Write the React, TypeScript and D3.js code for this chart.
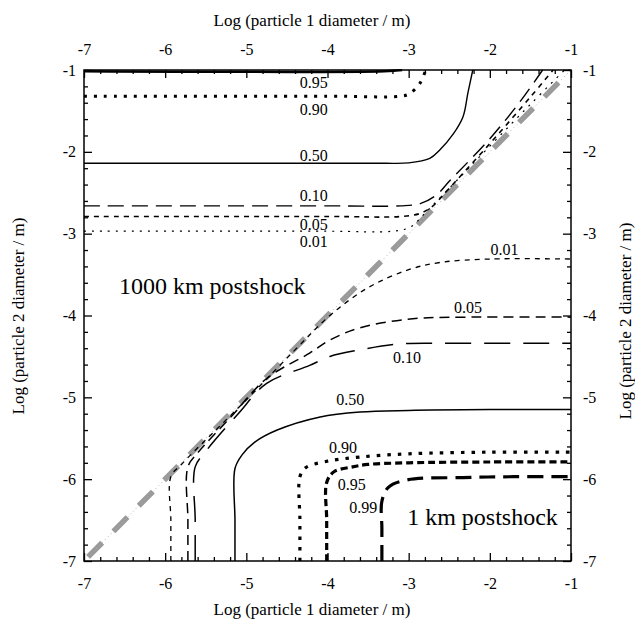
import React, { useEffect, useRef } from "react";
import * as d3 from "d3";

// axis ticks (log10 of diameter in m)
const majorTicks = [-7, -6, -5, -4, -3, -2, -1];
const minorTicks = [-6.8, -6.6, -6.4, -6.2, -5.8, -5.6, -5.4, -5.2, -4.8, -4.6, -4.4, -4.2,
  -3.8, -3.6, -3.4, -3.2, -2.8, -2.6, -2.4, -2.2, -1.8, -1.6, -1.4, -1.2];

// 1000 km postshock contours (above the diagonal)
const up95 = [[-7, -1.015], [-3.3, -1.015], [-3.08, -1.0]];
const up90 = [[-7, -1.32], [-4, -1.32], [-3.1, -1.32], [-2.99, -1.29], [-2.86, -1.16], [-2.79, -1.0]];
const up50 = [[-7, -2.14], [-4, -2.14], [-3.3, -2.14], [-3.0, -2.135], [-2.74, -2.08], [-2.62, -1.98], [-2.45, -1.78], [-2.33, -1.57], [-2.27, -1.28], [-2.21, -1.0]];
const up10 = [[-7, -2.66], [-4, -2.66], [-3.1, -2.66], [-2.85, -2.63], [-2.65, -2.52], [-2.5, -2.36], [-2.0, -1.84], [-1.6, -1.35], [-1.35, -1.0]];
const up05 = [[-7, -2.79], [-4, -2.79], [-3.1, -2.79], [-2.85, -2.75], [-2.7, -2.66], [-2.55, -2.5], [-2.0, -1.9], [-1.5, -1.33], [-1.22, -1.0]];
const up01 = [[-7, -2.97], [-4, -2.97], [-3.2, -2.97], [-2.98, -2.92], [-2.8, -2.75], [-2.0, -1.93], [-1.5, -1.42], [-1.08, -1.0]];

// 1 km postshock contours (below the diagonal)
const low01 = [[-5.93, -7], [-5.93, -6.5], [-5.93, -5.97], [-5.8, -5.82], [-5.0, -5.03], [-4.4, -4.42], [-3.97, -4.0], [-3.5, -3.66], [-3.0, -3.44], [-2.6, -3.35], [-2.0, -3.31], [-1, -3.31]];
const low05 = [[-5.72, -7], [-5.72, -6.5], [-5.72, -5.85], [-5.6, -5.68], [-5.2, -5.25], [-4.75, -4.77], [-4.22, -4.46], [-3.97, -4.3], [-3.6, -4.15], [-2.95, -4.04], [-2.3, -4.02], [-1, -4.02]];
const low10 = [[-5.63, -7], [-5.63, -6.5], [-5.63, -5.85], [-5.5, -5.66], [-5.1, -5.2], [-4.75, -4.83], [-4.22, -4.61], [-3.97, -4.5], [-3.6, -4.42], [-3.15, -4.35], [-2.5, -4.34], [-1, -4.34]];
const low50 = [[-5.14, -7], [-5.14, -6.5], [-5.14, -5.87], [-5.05, -5.7], [-4.9, -5.55], [-4.62, -5.4], [-4.09, -5.24], [-3.6, -5.18], [-3.0, -5.16], [-2, -5.15], [-1, -5.15]];
const low90 = [[-4.34, -7], [-4.34, -6.5], [-4.34, -5.97], [-4.27, -5.86], [-4.0, -5.78], [-3.6, -5.73], [-3.0, -5.69], [-2, -5.67], [-1, -5.67]];
const low95 = [[-4.01, -7], [-4.01, -6.5], [-4.01, -6.04], [-3.92, -5.91], [-3.69, -5.85], [-3.5, -5.82], [-3.0, -5.8], [-2, -5.79], [-1, -5.79]];
const low99 = [[-3.33, -7], [-3.33, -6.6], [-3.33, -6.27], [-3.25, -6.1], [-3.02, -6.01], [-2.33, -5.98], [-1.7, -5.97], [-1, -5.97]];

const diagonal = [[-6.95, -6.95], [-1, -1]];

// contour labels: [x, y, text]
const upLabels: [number, number, string][] = [
  [-4.17, -1.15, "0.95"], [-4.17, -1.48, "0.90"], [-4.17, -2.04, "0.50"],
  [-4.17, -2.53, "0.10"], [-4.17, -2.89, "0.05"], [-4.17, -3.1, "0.01"],
];
const lowLabels: [number, number, string][] = [
  [-1.82, -3.19, "0.01"], [-2.27, -3.9, "0.05"], [-3.02, -4.51, "0.10"],
  [-3.72, -5.02, "0.50"], [-3.81, -5.61, "0.90"], [-3.7, -6.07, "0.95"], [-3.56, -6.35, "0.99"],
];

const App = () => {
  const svgRef = useRef<SVGSVGElement>(null);

  useEffect(() => {
    document.body.style.margin = "0";
    const svg = d3.select(svgRef.current);
    svg.selectAll("*").remove();

    const font = "'Liberation Serif', 'Times New Roman', serif";
    const x = d3.scaleLinear().domain([-7, -1]).range([84, 571]);
    const y = d3.scaleLinear().domain([-7, -1]).range([561, 70]);

    svg.append("defs").append("clipPath").attr("id", "plotArea")
      .append("rect").attr("x", 84).attr("y", 69).attr("width", 487).attr("height", 492);

    const line = d3.line<number[]>()
      .x(d => x(d[0]))
      .y(d => y(d[1]))
      .curve(d3.curveCatmullRom.alpha(0.5));

    const plot = svg.append("g").attr("clip-path", "url(#plotArea)");

    // gray diagonal (d1 = d2)
    plot.append("path").attr("d", line(diagonal)).attr("fill", "none")
      .attr("stroke", "#9a9a9a").attr("stroke-width", 5.5).attr("stroke-dasharray", "20 16");
    plot.append("path").attr("d", line(diagonal)).attr("fill", "none")
      .attr("stroke", "#b0b0b0").attr("stroke-width", 1).attr("stroke-dasharray", "1 3");

    const curves: [number[][], number, string][] = [
      [up95, 2.5, ""],
      [up90, 3, "3 7"],
      [up50, 1.4, ""],
      [up10, 1.4, "16 8"],
      [up05, 1.6, "5 5"],
      [up01, 1.2, "2 6"],
      [low01, 1.3, "5 5"],
      [low05, 1.5, "10 6"],
      [low10, 1.5, "26 13"],
      [low50, 1.5, ""],
      [low90, 3.2, "3.5 7"],
      [low95, 3.2, "7 4"],
      [low99, 3.2, "16 8"],
    ];
    curves.forEach(([pts, w, dash]) => {
      plot.append("path").attr("d", line(pts)).attr("fill", "none")
        .attr("stroke", "#000").attr("stroke-width", w)
        .attr("stroke-dasharray", dash || null);
    });

    // frame
    svg.append("rect").attr("x", 84).attr("y", 70).attr("width", 487).attr("height", 491)
      .attr("fill", "none").attr("stroke", "#000").attr("stroke-width", 1.5);

    // axes, ticks pointing inward on all four sides
    const fmt = (d: d3.NumberValue) => String(d);
    const axes: [any, string, number][] = [
      [d3.axisBottom(x), "translate(0,561)", 17],
      [d3.axisTop(x), "translate(0,70)", 15],
      [d3.axisLeft(y), "translate(84,0)", 8],
      [d3.axisRight(y), "translate(571,0)", 12],
    ];
    axes.forEach(([ax, tr, pad]) => {
      const g = svg.append("g").attr("transform", tr);
      g.call(ax.tickValues(majorTicks).tickFormat(fmt).tickSizeInner(-8).tickSizeOuter(0).tickPadding(pad));
      g.append("g").call(ax.tickValues(minorTicks).tickFormat(() => "").tickSizeInner(-4).tickPadding(pad));
      g.selectAll(".domain").remove();
      g.selectAll("line").attr("stroke-width", 1.3);
      g.selectAll("text").attr("font-family", font).attr("font-size", 16).attr("fill", "#000");
    });

    // axis titles
    const title = (tx: number, ty: number, rot: number, txt: string) =>
      svg.append("text").attr("transform", `translate(${tx},${ty}) rotate(${rot})`)
        .attr("text-anchor", "middle").attr("font-family", font).attr("font-size", 17).text(txt);
    title(312, 26, 0, "Log (particle 1 diameter / m)");
    title(312, 615, 0, "Log (particle 1 diameter / m)");
    title(24, 316, -90, "Log (particle 2 diameter / m)");
    title(631, 321, -90, "Log (particle 2 diameter / m)");

    // contour labels
    [...upLabels, ...lowLabels].forEach(([lx, ly, t]) => {
      svg.append("text").attr("x", x(lx)).attr("y", y(ly)).attr("dy", "0.35em")
        .attr("text-anchor", "middle").attr("font-family", font).attr("font-size", 16).text(t);
    });

    // region annotations
    svg.append("text").attr("x", x(-5.42)).attr("y", y(-3.74)).attr("text-anchor", "middle")
      .attr("font-family", font).attr("font-size", 24).text("1000 km postshock");
    svg.append("text").attr("x", x(-2.09)).attr("y", y(-6.56)).attr("text-anchor", "middle")
      .attr("font-family", font).attr("font-size", 24).text("1 km postshock");
  }, []);

  return (
    <div>
      <svg ref={svgRef} width={635} height={624} style={{ display: "block", background: "#fff" }}></svg>
    </div>
  );
};

export default App;
